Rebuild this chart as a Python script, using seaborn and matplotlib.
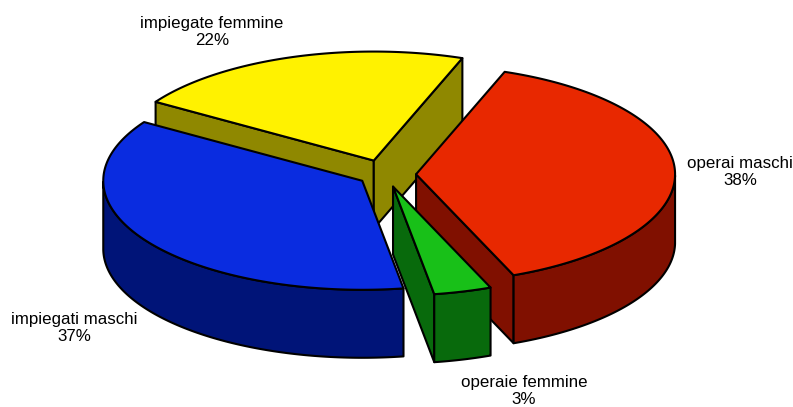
import numpy as np
import matplotlib
matplotlib.use('Agg')
import matplotlib.pyplot as plt
import seaborn as sns

# shares (from the slice angles), labels as printed
categories = ['operai maschi', 'operaie femmine', 'impiegati maschi', 'impiegate femmine']
shares = [38.3, 3.6, 36.6, 21.5]
percent_labels = ['38%', '3%', '37%', '22%']
top_colors = ['#E82800', '#18C018', '#0A2CE0', '#FFF200']
side_colors = ['#801000', '#086A0C', '#001478', '#8F8800']
label_pos = [(740, 172), (524, 391), (74, 328), (212, 32)]
explode = [0.12, 0.115, 0.105, 0.135]

start_angle = 70
cx, cy = 385, 174.5
rx, ry = 259, 109
depth = 68

sns.set_theme(style='white')
plt.rcParams['font.family'] = ['Liberation Sans', 'DejaVu Sans']

fig, ax = plt.subplots(figsize=(7.93, 4.07), dpi=100)
ax.set_position([0, 0, 1, 1])
ax.set_xlim(0, 793)
ax.set_ylim(407, 0)
ax.axis('off')


def pt(x0, y0, deg):
    deg = np.asarray(deg, dtype=float)
    return x0 + rx * np.cos(np.radians(deg)), y0 - ry * np.sin(np.radians(deg))


# angles going clockwise from the start
ends = start_angle - np.cumsum(shares) * 3.6
starts = np.concatenate([[start_angle], ends[:-1]])


def draw_wedge(i, z):
    a0, a1 = starts[i], ends[i]
    mid = np.radians((a0 + a1) / 2)
    x0 = cx + explode[i] * rx * np.cos(mid)
    y0 = cy - explode[i] * ry * np.sin(mid)
    style = dict(edgecolor='black', linewidth=1.5, joinstyle='round')

    # flat cut faces: only those facing the viewer
    for ang, normal in [(a0, 90), (a1, -90)]:
        if np.sin(np.radians(ang + normal)) < 0:
            ex, ey = pt(x0, y0, ang)
            ax.fill([x0, ex, ex, x0], [y0, ey, ey + depth, y0 + depth],
                    facecolor=side_colors[i], zorder=z, **style)

    # curved outer wall: front half of the ellipse only
    arc = np.linspace(a1, a0, 200)
    arc = arc[np.sin(np.radians(arc)) <= 0]
    if len(arc) > 1:
        wx, wy = pt(x0, y0, arc)
        ax.fill(np.r_[wx, wx[::-1]], np.r_[wy, wy[::-1] + depth],
                facecolor=side_colors[i], zorder=z, **style)

    # top
    tx, ty = pt(x0, y0, np.linspace(a0, a1, 200))
    ax.fill(np.r_[x0, tx], np.r_[y0, ty], facecolor=top_colors[i], zorder=z + 0.5, **style)


# back to front
for z, i in enumerate([3, 0, 2, 1]):
    draw_wedge(i, z + 1)

for name, pct, (x, y) in zip(categories, percent_labels, label_pos):
    ax.text(x, y, f'{name}\n{pct}', ha='center', va='center',
            fontsize=12.2, color='black', linespacing=1.22, zorder=10)

fig.savefig('out.png', dpi=100, facecolor='white')
